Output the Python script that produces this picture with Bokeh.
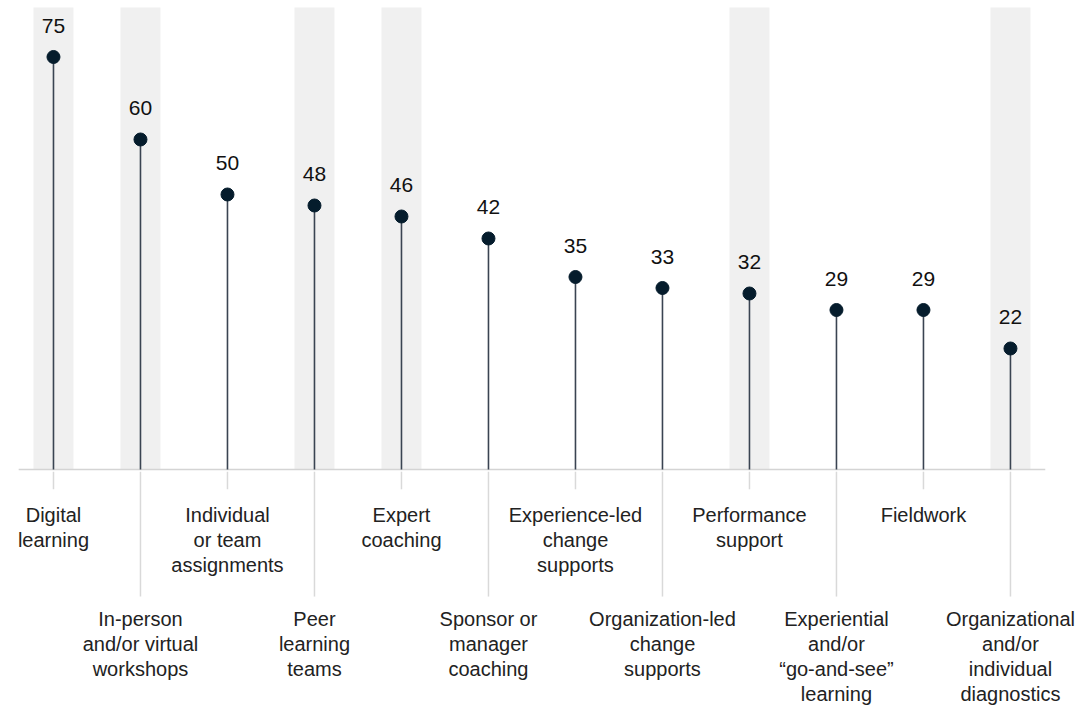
from bokeh.plotting import figure
from bokeh.models import Range1d, ColumnDataSource
from bokeh.core.properties import value
from bokeh.embed import file_html
from bokeh.resources import INLINE

categories = [
    "Digital\nlearning",
    "In-person\nand/or virtual\nworkshops",
    "Individual\nor team\nassignments",
    "Peer\nlearning\nteams",
    "Expert\ncoaching",
    "Sponsor or\nmanager\ncoaching",
    "Experience-led\nchange\nsupports",
    "Organization-led\nchange\nsupports",
    "Performance\nsupport",
    "Experiential\nand/or\n\u201cgo-and-see\u201d\nlearning",
    "Fieldwork",
    "Organizational\nand/or\nindividual\ndiagnostics",
]
values = [75, 60, 50, 48, 46, 42, 35, 33, 32, 29, 29, 22]
shaded = [0, 1, 3, 4, 8, 11]

FONT = "Liberation Sans"
n = len(values)
xs = list(range(n))

p = figure(width=1088, height=707, output_backend="svg", toolbar_location=None,
           x_range=Range1d(-0.609, 11.897), y_range=Range1d(-43.27, 85.27),
           min_border=0, outline_line_color=None,
           x_axis_location=None, y_axis_location=None)
p.xgrid.visible = False
p.ygrid.visible = False
p.background_fill_color = "white"
p.border_fill_color = "white"

# shaded bands
p.vbar(x=shaded, width=0.46, bottom=0, top=84, fill_color="#f0f0f0", line_color=None)

# baseline
p.segment(x0=[-0.4], y0=[0], x1=[11.4], y1=[0], line_color="#d4d4d4", line_width=1.5)

# label connector ticks
even = [i for i in xs if i % 2 == 0]
odd = [i for i in xs if i % 2 == 1]
p.segment(x0=even, y0=[-0.4] * len(even), x1=even, y1=[-3.6] * len(even),
          line_color="#d9d9d9", line_width=1.5)
p.segment(x0=odd, y0=[-0.4] * len(odd), x1=odd, y1=[-23.1] * len(odd),
          line_color="#d9d9d9", line_width=1.5)

# stems and dots
src = ColumnDataSource(dict(x=xs, v=values, lab=[str(v) for v in values], zero=[0] * n))
p.segment(x0="x", y0="zero", x1="x", y1="v", source=src, line_color="#3a4452", line_width=1.6)
p.scatter(x="x", y="v", source=src, size=13, fill_color="#051c2c", line_color="#051c2c")
p.text(x="x", y="v", text="lab", source=src, y_offset=-31, text_align="center",
       text_baseline="middle", text_font=value(FONT), text_font_size="21px",
       text_color="#111111")

# category labels
p.text(x=even, y=[-6.2] * len(even), text=[categories[i] for i in even],
       text_align="center", text_baseline="top", text_font=value(FONT),
       text_font_size="20px", text_line_height=1.14, text_color="#222222")
p.text(x=odd, y=[-25.1] * len(odd), text=[categories[i] for i in odd],
       text_align="center", text_baseline="top", text_font=value(FONT),
       text_font_size="20px", text_line_height=1.14, text_color="#222222")

open("out.html", "w").write(file_html(p, INLINE))
